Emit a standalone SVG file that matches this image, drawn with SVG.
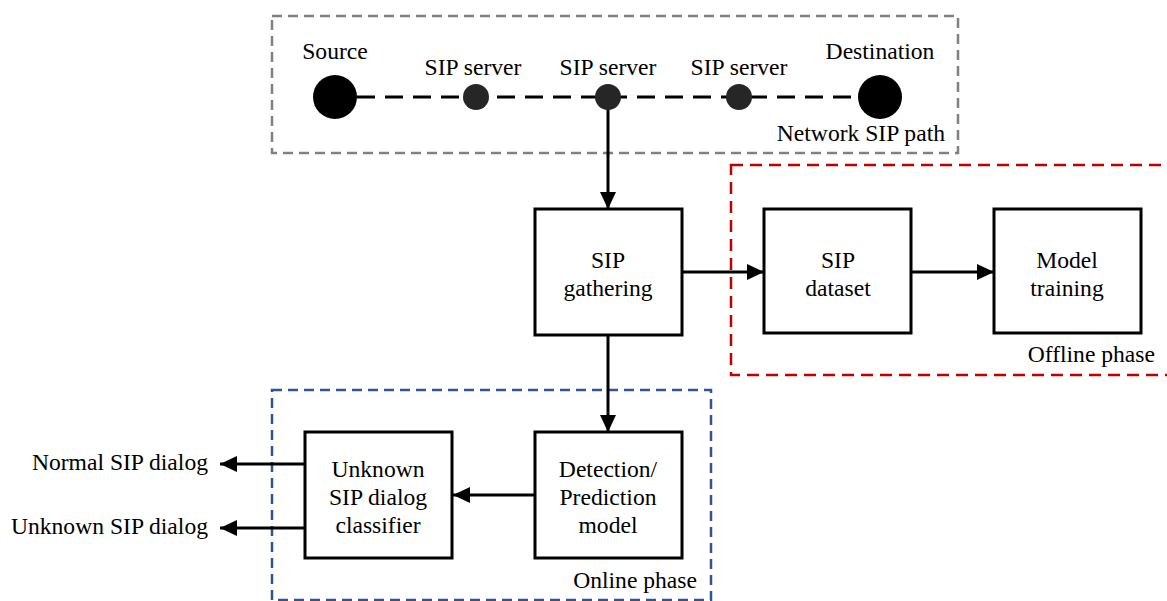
<svg xmlns="http://www.w3.org/2000/svg" width="1167" height="601" viewBox="0 0 1167 601">
<style>
text{font-family:'Liberation Serif','DejaVu Serif',serif;font-size:23.6px;fill:#000}
.c{text-anchor:middle}
.e{text-anchor:end}
.box{fill:#fff;stroke:#000;stroke-width:3}
.conn{stroke:#000;stroke-width:3;fill:none}
.region{fill:none;stroke-width:2.5}
</style>
<defs>
<marker id="arr" markerUnits="userSpaceOnUse" markerWidth="18" markerHeight="16" refX="17" refY="8" orient="auto">
<path d="M0,0 L17,8 L0,16 Z" fill="#000"/>
</marker>
</defs>
<rect width="1167" height="601" fill="#fff"/>
<g id="regions">
<rect id="network-path" class="region" x="272" y="16" width="686" height="137" stroke="#808080" stroke-dasharray="10 6"/>
<rect id="offline-phase" class="region" x="731" y="165" width="460" height="210" stroke="#c00000" stroke-width="3" stroke-dasharray="12 7"/>
<rect id="online-phase" class="region" x="272" y="390" width="439" height="210" stroke="#2f5597" stroke-dasharray="10 6"/>
<text class="e" x="945" y="141">Network SIP path</text>
<text class="e" x="1155" y="362">Offline phase</text>
<text class="e" x="697" y="588">Online phase</text>
</g>
<g id="connectors">
<line class="conn" x1="357" y1="97" x2="858" y2="97" stroke-dasharray="18 10"/>
<line class="conn" x1="608" y1="108" x2="608" y2="209" marker-end="url(#arr)"/>
<line class="conn" x1="682" y1="272" x2="764" y2="272" marker-end="url(#arr)"/>
<line class="conn" x1="911" y1="272" x2="994" y2="272" marker-end="url(#arr)"/>
<line class="conn" x1="608" y1="335" x2="608" y2="432" marker-end="url(#arr)"/>
<line class="conn" x1="535" y1="495" x2="453" y2="495" marker-end="url(#arr)"/>
<line class="conn" x1="305" y1="464" x2="220" y2="464" marker-end="url(#arr)"/>
<line class="conn" x1="305" y1="528" x2="220" y2="528" marker-end="url(#arr)"/>
</g>
<g id="source"><circle cx="335" cy="97" r="22" fill="#000"/><text class="c" x="335" y="59">Source</text></g>
<g id="sip-server-1"><circle cx="476" cy="97" r="13" fill="#262626"/><text class="c" x="473" y="75">SIP server</text></g>
<g id="sip-server-2"><circle cx="608" cy="97" r="13" fill="#262626"/><text class="c" x="608" y="75">SIP server</text></g>
<g id="sip-server-3"><circle cx="739" cy="97" r="13" fill="#262626"/><text class="c" x="739" y="75">SIP server</text></g>
<g id="destination"><circle cx="880" cy="97" r="22" fill="#000"/><text class="c" x="880" y="59">Destination</text></g>
<g id="sip-gathering"><rect class="box" x="535" y="209" width="147" height="126"/><text class="c" x="608" y="268">SIP</text><text class="c" x="608" y="296">gathering</text></g>
<g id="sip-dataset"><rect class="box" x="764" y="209" width="147" height="124"/><text class="c" x="838" y="268">SIP</text><text class="c" x="838" y="296">dataset</text></g>
<g id="model-training"><rect class="box" x="994" y="209" width="147" height="124"/><text class="c" x="1067" y="268">Model</text><text class="c" x="1067" y="296">training</text></g>
<g id="detection-model"><rect class="box" x="535" y="432" width="147" height="126"/><text class="c" x="608" y="477">Detection/</text><text class="c" x="608" y="505">Prediction</text><text class="c" x="608" y="533">model</text></g>
<g id="classifier"><rect class="box" x="305" y="432" width="147" height="126"/><text class="c" x="378" y="477">Unknown</text><text class="c" x="378" y="505">SIP dialog</text><text class="c" x="378" y="533">classifier</text></g>
<g id="outputs"><text class="e" x="208" y="470">Normal SIP dialog</text><text class="e" x="208" y="534">Unknown SIP dialog</text></g>
</svg>
